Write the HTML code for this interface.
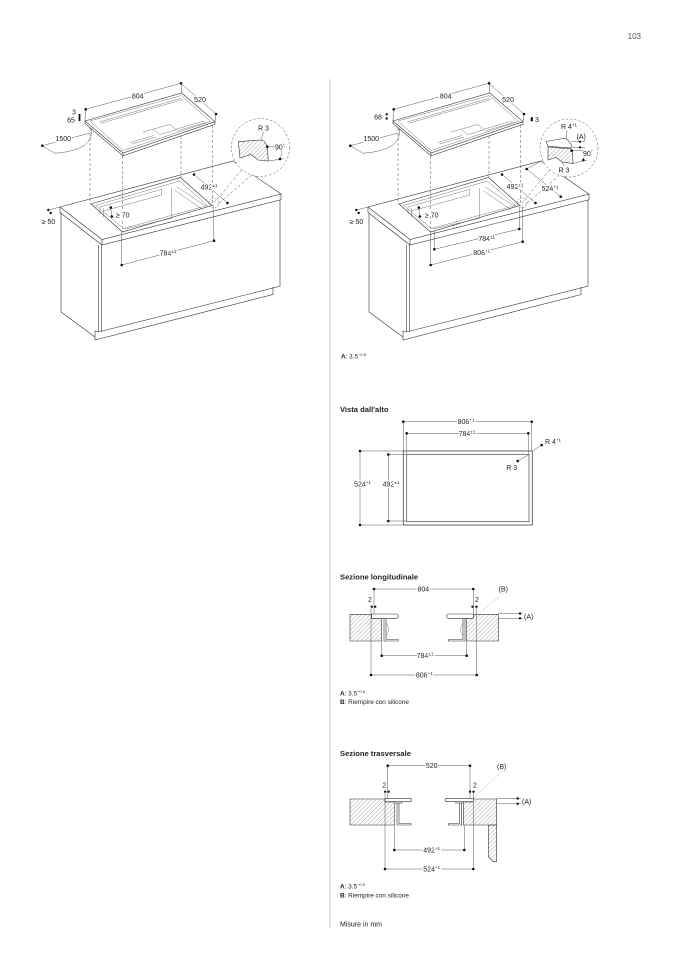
<!DOCTYPE html>
<html><head><meta charset="utf-8">
<style>
html,body{margin:0;padding:0;background:#fff;}
svg{display:block;}
text{font-family:"Liberation Sans",Arial,sans-serif;fill:#222;}
.d{font-size:7px;}
.lab{paint-order:stroke;stroke:#fff;stroke-width:2.6px;stroke-linejoin:round;}
.t{font-size:7.6px;font-weight:bold;}
.n{font-size:6.4px;}
.l{stroke:#333;stroke-width:0.6;fill:none;}
.th{stroke:#555;stroke-width:0.4;fill:none;}
.dim{stroke:#444;stroke-width:0.45;fill:none;}
.ds{stroke:#555;stroke-width:0.5;fill:none;stroke-dasharray:3 2;}
.dt{stroke:#777;stroke-width:0.5;fill:none;stroke-dasharray:0.8 1;}
.dot{fill:#111;}
</style></head><body>
<svg width="678" height="959" viewBox="0 0 678 959" xmlns="http://www.w3.org/2000/svg">
<defs>
<pattern id="h" width="3" height="3" patternUnits="userSpaceOnUse" patternTransform="rotate(45)"><line x1="0" y1="0" x2="0" y2="3" stroke="#555" stroke-width="0.5"/></pattern>
<g id="iso">
 <!-- counter top -->
 <polygon class="l" fill="#fff" points="60,207 233,161 281,194 102,239.5"/>
 <polyline class="l" points="60,207 60,212.5 102,245 281,199.8 281,194"/>
 <line class="l" x1="102" y1="239.5" x2="102" y2="245"/>
 <!-- cutout -->
 <polygon class="l" points="91,204 180.5,177.5 212,205.5 122.5,232"/>
 <polygon class="th" points="95.5,205.5 179.5,181 207.5,205.5 123.5,228.5"/>
 <line class="th" x1="100" y1="207" x2="161.7" y2="189.3"/>
 <line class="th" x1="103.3" y1="211" x2="161.7" y2="195"/>
 <line class="th" x1="161.7" y1="189.3" x2="161.7" y2="195"/>
 <line class="th" x1="100" y1="206.7" x2="100" y2="214"/>
 <line class="th" x1="103.3" y1="208" x2="103.3" y2="217"/>
 <line class="th" x1="171.7" y1="188" x2="171.7" y2="218.3"/>
 <line class="th" x1="176.7" y1="186.7" x2="206.7" y2="206.7"/>
 <line class="th" x1="175" y1="190.5" x2="203.3" y2="210"/>
 <line class="th" x1="125" y1="229" x2="171.7" y2="218.3"/>
 <!-- cabinet -->
 <polyline class="l" points="61,212.5 61,312 95,337"/>
 <line class="l" x1="98.3" y1="245" x2="98.3" y2="332"/>
 <line class="l" x1="101.7" y1="244.5" x2="101.7" y2="332"/>
 <polyline class="l" points="95,330.5 95,340 273,294.5 273,287"/>
 <polyline class="l" points="95,331 98.3,332 280,286.2 280,199.8"/>
 <!-- hob -->
 <polygon class="l" fill="#fff" points="85,121 181.7,93 215,121.7 123,153"/>
 <polyline class="l" points="85,121 85,123.5 123,155.8 215,124.3 215,121.7"/>
 <line class="l" x1="123" y1="153" x2="123" y2="155.8"/>
 <polygon class="th" points="90,121 181.3,95.5 210.5,121.5 123.2,150.5"/>
 <line class="th" x1="99.2" y1="122" x2="181.5" y2="98.2"/>
 <line class="th" x1="100.7" y1="123.3" x2="183" y2="99.5"/>
 <line class="th" x1="131.8" y1="144" x2="156" y2="137"/>
 <line class="th" x1="130" y1="142.5" x2="154" y2="135.5"/>
 <line class="th" x1="177.3" y1="130.8" x2="206.3" y2="122.4"/>
 <line class="th" x1="175.5" y1="129.3" x2="204" y2="121"/>
 <polygon class="th" points="153.2,129.2 169.7,124.4 176.2,129.8 159.7,134.6"/>
 <line class="th" x1="143" y1="132" x2="153.2" y2="129.2"/>
 <!-- dashed projections -->
 <line class="ds" x1="90" y1="128" x2="90" y2="204"/>
 <line class="ds" x1="122.5" y1="156" x2="122.5" y2="232"/>
 <line class="ds" x1="181" y1="136" x2="181" y2="177.5"/>
 <line class="ds" x1="212.5" y1="125" x2="212.5" y2="205.5"/>
 <line class="ds" x1="241.7" y1="170" x2="213" y2="204"/>
 <line class="ds" x1="251.7" y1="175" x2="217" y2="205"/>
 <circle class="ds" cx="214" cy="203" r="5" style="stroke-dasharray:1.5 1.2"/>
 <!-- top dims -->
 <line class="dim" x1="85.7" y1="109.3" x2="181" y2="83.3"/>
 <line class="dim" x1="181" y1="83.3" x2="216" y2="114"/>
 <line class="dim" x1="85.5" y1="109.3" x2="85" y2="121"/>
 <line class="dim" x1="181.3" y1="83.3" x2="181.7" y2="93"/>
 <line class="dim" x1="216" y1="114" x2="215" y2="121.7"/>
 <circle class="dot" cx="85.7" cy="109.3" r="1.3"/>
 <circle class="dot" cx="181" cy="83.3" r="1.3"/>
 <circle class="dot" cx="216" cy="114" r="1.3"/>
 <!-- cable -->
 <line class="dim" x1="42.3" y1="145.7" x2="90" y2="133"/>
 <path class="dim" d="M42.3 145.7 L55 153.3 Q 96 150 91 127.5"/>
 <circle class="dot" cx="42.3" cy="145.7" r="1.3"/>
 <!-- >=50 -->
 <line class="dim" x1="48.3" y1="210" x2="60" y2="207"/>
 <circle class="dot" cx="48.3" cy="210" r="1.2"/>
 <circle class="dot" cx="50.7" cy="213" r="1.2"/>
 <!-- >=70 -->
 <line class="dim" x1="110.8" y1="207.5" x2="111.8" y2="216.5"/>
 <circle class="dot" cx="110.8" cy="207.5" r="1.3"/>
 <circle class="dot" cx="111.8" cy="216.5" r="1.3"/>
 <!-- 492 -->
 <line class="dim" x1="194" y1="174.5" x2="227.5" y2="203"/>
 <circle class="dot" cx="194" cy="174.5" r="1.3"/>
 <circle class="dot" cx="227.5" cy="203" r="1.3"/>
</g>
</defs>

<!-- page number -->
<text x="641" y="39" text-anchor="end" style="font-size:8px;fill:#555">103</text>

<!-- divider -->
<line x1="330" y1="79" x2="330" y2="928" stroke="#aaa" stroke-width="0.6"/>

<!-- ===== LEFT ISO ===== -->
<use href="#iso"/>
<line class="dim" x1="121.7" y1="232" x2="121.7" y2="265"/>
<line class="dim" x1="213" y1="205.5" x2="214" y2="240.7"/>
<line class="dim" x1="121.7" y1="265" x2="214" y2="240.7"/>
<circle class="dot" cx="121.7" cy="265" r="1.3"/>
<circle class="dot" cx="214" cy="240.7" r="1.3"/>
<rect x="78.6" y="114" width="1.8" height="7" fill="#111"/>
<text class="d lab" x="137.7" y="98.5" text-anchor="middle">804</text>
<text class="d lab" x="200" y="101.8" text-anchor="middle">520</text>
<text class="d" x="74" y="114.5" text-anchor="middle">3</text>
<text class="d" x="71" y="122.5" text-anchor="middle">65</text>
<text class="d lab" x="63.3" y="140.8" text-anchor="middle">1500</text>
<text class="d" x="48.5" y="224" text-anchor="middle">≥ 50</text>
<text class="d lab" x="116" y="217.3">≥ 70</text>
<text class="d lab" x="209" y="189.5" text-anchor="middle">492<tspan font-size="4.5" dy="-2.5">±1</tspan></text>
<text class="d lab" x="168" y="255.5" text-anchor="middle">784<tspan font-size="4.5" dy="-2.5">±1</tspan></text>
<!-- left detail -->
<circle cx="260.5" cy="147.5" r="29" fill="#fff" stroke="#555" stroke-width="0.5" stroke-dasharray="2.5 1.8"/>
<polygon points="238.3,141.7 260,140 264,141 267.3,146.7 268.3,161 258,160 251,154.5 240,158" fill="url(#h)" stroke="#333" stroke-width="0.6"/>
<line class="dim" x1="261" y1="140" x2="263.5" y2="132"/>
<line class="dim" x1="267.3" y1="146.7" x2="285" y2="146.7"/>
<line class="dim" x1="268.3" y1="161" x2="284" y2="158.7"/>
<path class="dim" d="M280 159 A13 13 0 0 0 279.5 146.7"/>
<circle class="dot" cx="267.3" cy="146.7" r="1.3"/>
<circle class="dot" cx="280" cy="159" r="1.3"/>
<text class="d" x="263.5" y="130.5" text-anchor="middle">R 3</text>
<text class="d lab" x="275" y="149.5">90<tspan font-size="4.5" dy="-2.5">°</tspan></text>

<!-- ===== RIGHT ISO ===== -->
<use href="#iso" x="308"/>
<line class="dim" x1="430.7" y1="232" x2="430.7" y2="265"/>
<line class="dim" x1="434.3" y1="231" x2="434.3" y2="249.3"/>
<line class="dim" x1="519.3" y1="207" x2="519.3" y2="229"/>
<line class="dim" x1="522.7" y1="205.5" x2="522.7" y2="241.7"/>
<line class="dim" x1="434.3" y1="249.3" x2="519.3" y2="229"/>
<line class="dim" x1="430.7" y1="265" x2="522.7" y2="241.7"/>
<circle class="dot" cx="434.3" cy="249.3" r="1.3"/>
<circle class="dot" cx="519.3" cy="229" r="1.3"/>
<circle class="dot" cx="430.7" cy="265" r="1.3"/>
<circle class="dot" cx="522.7" cy="241.7" r="1.3"/>
<line class="dim" x1="526.7" y1="169" x2="560.7" y2="196.7"/>
<line class="dim" x1="541" y1="161" x2="526.7" y2="169"/>
<circle class="dot" cx="526.7" cy="169" r="1.3"/>
<circle class="dot" cx="560.7" cy="196.7" r="1.3"/>
<circle class="dot" cx="386.7" cy="114.3" r="1.2"/>
<circle class="dot" cx="386.7" cy="118.5" r="1.2"/>
<rect x="530.7" y="117.3" width="2.2" height="4" fill="#111"/>
<text class="d lab" x="445.7" y="98.5" text-anchor="middle">804</text>
<text class="d lab" x="508" y="101.8" text-anchor="middle">520</text>
<text class="d" x="378" y="119.3" text-anchor="middle">68</text>
<text class="d" x="535" y="121.8">3</text>
<text class="d lab" x="371.3" y="140.8" text-anchor="middle">1500</text>
<text class="d" x="356.5" y="224" text-anchor="middle">≥ 50</text>
<text class="d lab" x="425" y="217.5">≥ 70</text>
<text class="d lab" x="515" y="189.2" text-anchor="middle">492<tspan font-size="4.5" dy="-2.5">±1</tspan></text>
<text class="d lab" x="550" y="190.8" text-anchor="middle">524<tspan font-size="4.5" dy="-2.5">+1</tspan></text>
<text class="d lab" x="486.7" y="240.8" text-anchor="middle">784<tspan font-size="4.5" dy="-2.5">±1</tspan></text>
<text class="d lab" x="481.7" y="255.2" text-anchor="middle">808<tspan font-size="4.5" dy="-2.5">+1</tspan></text>
<!-- right detail -->
<circle cx="569" cy="148" r="29" fill="#fff" stroke="#555" stroke-width="0.5" stroke-dasharray="2.5 1.8"/>
<polygon points="546,141.5 563,138.5 567,139 571.5,145 571,148 548,146.3" fill="#fff" stroke="#333" stroke-width="0.6"/>
<polygon points="548,147 571,149 572.5,150.5 573,163.5 562,162 556,157.5 548,160" fill="url(#h)" stroke="#333" stroke-width="0.6"/>
<line class="dim" x1="566" y1="139.5" x2="567" y2="130"/>
<line class="dim" x1="571.5" y1="141.7" x2="585" y2="141.7"/>
<line class="dim" x1="572" y1="147.3" x2="585" y2="147.3"/>
<line class="dim" x1="572.5" y1="150.7" x2="590" y2="150.7"/>
<line class="dim" x1="573" y1="163.5" x2="587" y2="160"/>
<path class="dim" d="M583.3 160 A12 12 0 0 0 583 150.7"/>
<line class="dim" x1="562" y1="162" x2="564" y2="166"/>
<circle class="dot" cx="580" cy="141.7" r="1.1"/>
<circle class="dot" cx="580" cy="147.3" r="1.1"/>
<circle class="dot" cx="571.7" cy="150.7" r="1.3"/>
<circle class="dot" cx="583.3" cy="160" r="1.3"/>
<text class="d" x="561" y="129">R 4<tspan font-size="4.5" dy="-2.5">+1</tspan></text>
<text class="d" x="576.5" y="139">(A)</text>
<text class="d lab" x="583" y="156">90<tspan font-size="4.5" dy="-2.5">°</tspan></text>
<text class="d" x="564" y="172.5" text-anchor="middle">R 3</text>

<text class="n" x="341" y="358.5"><tspan font-weight="bold">A</tspan>: 3.5<tspan font-size="4" dy="-2.5">−0.5</tspan></text>

<!-- ===== VISTA DALL'ALTO ===== -->
<text class="t" x="340" y="412">Vista dall'alto</text>
<line class="dim" x1="403.3" y1="421.7" x2="531.7" y2="421.7"/>
<line class="dim" x1="406.7" y1="433.3" x2="528.3" y2="433.3"/>
<line class="dim" x1="403.3" y1="421.7" x2="403.3" y2="451"/>
<line class="dim" x1="531.7" y1="421.7" x2="531.7" y2="451"/>
<line class="dim" x1="406.7" y1="433.3" x2="406.7" y2="454.3"/>
<line class="dim" x1="528.3" y1="433.3" x2="528.3" y2="454.3"/>
<circle class="dot" cx="403.3" cy="421.7" r="1.3"/>
<circle class="dot" cx="531.7" cy="421.7" r="1.3"/>
<circle class="dot" cx="406.7" cy="433.3" r="1.3"/>
<circle class="dot" cx="528.3" cy="433.3" r="1.3"/>
<rect x="403.3" y="451" width="129" height="74" fill="none" stroke="#444" stroke-width="0.8"/>
<rect x="406.7" y="454.3" width="122.3" height="67.4" fill="none" stroke="#444" stroke-width="0.7"/>
<line class="dim" x1="360" y1="451" x2="403.3" y2="451"/>
<line class="dim" x1="360" y1="525" x2="403.3" y2="525"/>
<line class="dim" x1="388.3" y1="454.5" x2="406.7" y2="454.5"/>
<line class="dim" x1="388.3" y1="521" x2="406.7" y2="521"/>
<line class="dim" x1="360" y1="451" x2="360" y2="525"/>
<line class="dim" x1="388.3" y1="454.5" x2="388.3" y2="521"/>
<circle class="dot" cx="360" cy="451" r="1.3"/>
<circle class="dot" cx="360" cy="525" r="1.3"/>
<circle class="dot" cx="388.3" cy="454.5" r="1.3"/>
<circle class="dot" cx="388.3" cy="521" r="1.3"/>
<line class="dim" x1="532" y1="451" x2="541.7" y2="445"/>
<line class="dim" x1="517.7" y1="461" x2="528.3" y2="455"/>
<circle class="dot" cx="541.7" cy="445" r="1.3"/>
<circle class="dot" cx="517.7" cy="461" r="1.3"/>
<text class="d lab" x="466" y="424.2" text-anchor="middle">808<tspan font-size="4.5" dy="-2.5">+1</tspan></text>
<text class="d lab" x="467" y="435.8" text-anchor="middle">784<tspan font-size="4.5" dy="-2.5">±1</tspan></text>
<text class="d lab" x="362.5" y="486.5" text-anchor="middle">524<tspan font-size="4.5" dy="-2.5">+1</tspan></text>
<text class="d lab" x="391" y="486.5" text-anchor="middle">492<tspan font-size="4.5" dy="-2.5">±1</tspan></text>
<text class="d" x="545" y="444.2">R 4<tspan font-size="4.5" dy="-2.5">+1</tspan></text>
<text class="d" x="511.7" y="470.2" text-anchor="middle">R 3</text>

<!-- ===== SEZIONE LONGITUDINALE ===== -->
<text class="t" x="340" y="579.5">Sezione longitudinale</text>
<line class="dim" x1="374" y1="589" x2="473.3" y2="589"/>
<line class="dim" x1="374" y1="589" x2="374" y2="614"/>
<line class="dim" x1="473.3" y1="589" x2="473.3" y2="614"/>
<circle class="dot" cx="374" cy="589" r="1.3"/>
<circle class="dot" cx="473.3" cy="589" r="1.3"/>
<text class="d lab" x="423.3" y="591.5" text-anchor="middle">804</text>
<text class="d" x="370" y="602" text-anchor="middle">2</text>
<text class="d" x="477" y="602" text-anchor="middle">2</text>
<circle class="dot" cx="371.8" cy="606.7" r="1.2"/>
<circle class="dot" cx="375.2" cy="606.7" r="1.2"/>
<circle class="dot" cx="472.5" cy="606.7" r="1.2"/>
<circle class="dot" cx="476.5" cy="606.7" r="1.2"/>
<!-- left -->
<polygon points="350,614.3 371.7,614.3 371.7,618.3 381.7,618.3 381.7,641 350,641" fill="url(#h)" stroke="#333" stroke-width="0.6"/>
<path d="M371.7 614 H396.5 Q398.3 614 398.3 616 Q398.3 618.3 396.5 618.3 H371.7 Z" fill="#fff" stroke="#333" stroke-width="0.6"/>
<polyline class="l" points="384,618.3 384,641 398.3,641 398.3,639.5 386,639.5 386,618.3"/>
<polyline class="th" points="386,622 389,630 386,636"/>
<!-- right -->
<polygon points="466.7,618.3 473.3,618.3 473.3,614.3 498.3,614.3 498.3,641 466.7,641" fill="url(#h)" stroke="#333" stroke-width="0.6"/>
<path d="M473.3 614 H448.5 Q446.7 614 446.7 616 Q446.7 618.3 448.5 618.3 H473.3 Z" fill="#fff" stroke="#333" stroke-width="0.6"/>
<polyline class="l" points="465,618.3 465,641 448.3,641 448.3,639.5 463,639.5 463,618.3"/>
<polyline class="th" points="463,622 460,630 463,636"/>
<line class="dim" x1="498.3" y1="613.5" x2="523" y2="613.5"/>
<line class="dim" x1="498.3" y1="618.3" x2="523" y2="618.3"/>
<circle class="dot" cx="520" cy="613.5" r="1.2"/>
<circle class="dot" cx="520" cy="618.3" r="1.2"/>
<text class="d" x="524" y="619">(A)</text>
<text class="d" x="503.3" y="591.5" text-anchor="middle">(B)</text>
<line class="dt" x1="503" y1="593.5" x2="476.7" y2="615"/>
<line class="dim" x1="381.7" y1="641" x2="381.7" y2="655.7"/>
<line class="dim" x1="466.7" y1="641" x2="466.7" y2="655.7"/>
<line class="dim" x1="381.7" y1="655.7" x2="466.7" y2="655.7"/>
<circle class="dot" cx="381.7" cy="655.7" r="1.3"/>
<circle class="dot" cx="466.7" cy="655.7" r="1.3"/>
<text class="d lab" x="425" y="658.2" text-anchor="middle">784<tspan font-size="4.5" dy="-2.5">±1</tspan></text>
<line class="dim" x1="371" y1="608" x2="371" y2="675"/>
<line class="dim" x1="476.7" y1="608" x2="476.7" y2="675"/>
<line class="dim" x1="371" y1="675" x2="476.7" y2="675"/>
<circle class="dot" cx="371" cy="675" r="1.3"/>
<circle class="dot" cx="476.7" cy="675" r="1.3"/>
<text class="d lab" x="424.3" y="677.5" text-anchor="middle">808<tspan font-size="4.5" dy="-2.5">+1</tspan></text>
<text class="n" x="340" y="695.5"><tspan font-weight="bold">A</tspan>: 3.5<tspan font-size="4" dy="-2.5">−0.5</tspan></text>
<text class="n" x="340" y="704"><tspan font-weight="bold">B</tspan>: Riempire con silicone</text>

<!-- ===== SEZIONE TRASVERSALE ===== -->
<text class="t" x="340" y="756">Sezione trasversale</text>
<line class="dim" x1="387.7" y1="765.7" x2="470" y2="765.7"/>
<line class="dim" x1="387.7" y1="765.7" x2="387.7" y2="798"/>
<line class="dim" x1="470" y1="765.7" x2="470" y2="798"/>
<circle class="dot" cx="387.7" cy="765.7" r="1.3"/>
<circle class="dot" cx="470" cy="765.7" r="1.3"/>
<text class="d lab" x="431.7" y="768.2" text-anchor="middle">520</text>
<text class="d" x="384.3" y="787.5" text-anchor="middle">2</text>
<text class="d" x="475" y="787.5" text-anchor="middle">2</text>
<circle class="dot" cx="385.3" cy="791.7" r="1.2"/>
<circle class="dot" cx="388.7" cy="791.7" r="1.2"/>
<circle class="dot" cx="470" cy="791.7" r="1.2"/>
<circle class="dot" cx="473.5" cy="791.7" r="1.2"/>
<!-- left -->
<polygon points="350,799 385,799 385,802 394.3,802 394.3,825 350,825" fill="url(#h)" stroke="#333" stroke-width="0.6"/>
<path d="M385 798.3 H410 Q411.7 798.3 411.7 800 Q411.7 801.7 410 801.7 H385 Z" fill="#fff" stroke="#333" stroke-width="0.6"/>
<polyline class="l" points="395,803 403,803"/>
<polyline class="l" points="397,803 397,825 411,825 411,823.5 399,823.5 399,803"/>
<!-- right -->
<polygon points="463.3,802 473.3,802 473.3,799 496.7,799 496.7,825 463.3,825" fill="url(#h)" stroke="#333" stroke-width="0.6"/>
<path d="M473.3 798.3 H446.7 Q445 798.3 445 800 Q445 801.7 446.7 801.7 H473.3 Z" fill="#fff" stroke="#333" stroke-width="0.6"/>
<polyline class="l" points="455,803 463.3,803"/>
<polyline class="l" points="461.7,803 461.7,825 448.3,825 448.3,823.5 459.7,823.5 459.7,803"/>
<polygon points="488.3,825 496.7,825 496.7,861.7 493.3,861.7 488.3,856.7" fill="url(#h)" stroke="#333" stroke-width="0.6"/>
<line class="dim" x1="496.7" y1="798.5" x2="521" y2="798.5"/>
<line class="dim" x1="496.7" y1="803.8" x2="521" y2="803.8"/>
<circle class="dot" cx="517.7" cy="798.5" r="1.2"/>
<circle class="dot" cx="517.7" cy="803.8" r="1.2"/>
<text class="d" x="522" y="804">(A)</text>
<text class="d" x="501.7" y="769" text-anchor="middle">(B)</text>
<line class="dt" x1="501.7" y1="771.5" x2="473.3" y2="798.3"/>
<line class="dim" x1="394.3" y1="825" x2="394.3" y2="850"/>
<line class="dim" x1="464.3" y1="825" x2="464.3" y2="850"/>
<line class="dim" x1="394.3" y1="850" x2="464.3" y2="850"/>
<circle class="dot" cx="394.3" cy="850" r="1.3"/>
<circle class="dot" cx="464.3" cy="850" r="1.3"/>
<text class="d lab" x="431.7" y="852.5" text-anchor="middle">492<tspan font-size="4.5" dy="-2.5">+1</tspan></text>
<line class="dim" x1="385" y1="792" x2="385" y2="869"/>
<line class="dim" x1="473.3" y1="792" x2="473.3" y2="869"/>
<line class="dim" x1="385" y1="869" x2="473.3" y2="869"/>
<circle class="dot" cx="385" cy="869" r="1.3"/>
<circle class="dot" cx="473.3" cy="869" r="1.3"/>
<text class="d lab" x="431.7" y="871.5" text-anchor="middle">524<tspan font-size="4.5" dy="-2.5">+1</tspan></text>
<text class="n" x="340" y="888.5"><tspan font-weight="bold">A</tspan>: 3.5<tspan font-size="4" dy="-2.5">−0.5</tspan></text>
<text class="n" x="340" y="897.5"><tspan font-weight="bold">B</tspan>: Riempire con silicone</text>

<text x="340" y="926.5" style="font-size:7px">Misure in mm</text>
</svg>
</body></html>
